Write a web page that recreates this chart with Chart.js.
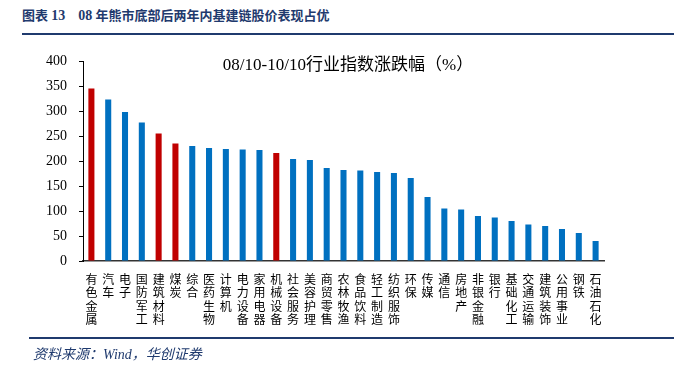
<!DOCTYPE html>
<html>
<head>
<meta charset="utf-8">
<script src="https://cdn.jsdelivr.net/npm/chart.js@4.4.1/dist/chart.umd.min.js"></script>
<style>
  body { margin: 0; background: #fff; }
  #wrap { position: relative; width: 674px; height: 365px; }
  #chartBox { position: absolute; left: 0; top: 0; width: 674px; height: 365px; }
  .head { position: absolute; left: 22px; top: 5px; font: bold 13px "Liberation Serif", "Noto Sans CJK SC"; color: #1F3A6E; white-space: pre; }
  .head b { font-size: 14px; }
  .rule { position: absolute; left: 22px; right: 0; height: 2px; background: #1F3A6E; }
  .src { position: absolute; left: 33px; top: 343px; font: italic 14px "Liberation Serif", "Noto Sans CJK SC"; color: #1F3A6E; }
</style>
</head>
<body>
<div id="wrap">
  <div class="head">图表 <b>13</b>    <b>08</b> 年熊市底部后两年内基建链股价表现占优</div>
  <div class="rule" style="top:33px"></div>
  <div id="chartBox"><canvas id="chart1"></canvas></div>
  <div class="rule" style="top:337px; left:29px; height:1.5px"></div>
  <div class="src">资料来源：Wind，华创证券</div>
</div>
<script>
const industries = ["有色金属", "汽车", "电子", "国防军工", "建筑材料", "煤炭", "综合", "医药生物",
  "计算机", "电力设备", "家用电器", "机械设备", "社会服务", "美容护理", "商贸零售", "农林牧渔",
  "食品饮料", "轻工制造", "纺织服饰", "环保", "传媒", "通信", "房地产", "非银金融", "银行",
  "基础化工", "交通运输", "建筑装饰", "公用事业", "钢铁", "石油石化"];
const changePct = [345, 323, 298, 277, 255, 235, 230, 226, 224, 223, 222, 216, 204, 202, 186, 182,
  181, 178, 176, 166, 128, 105, 103, 90, 87, 80, 73, 70, 64, 56, 40];
const highlighted = ["有色金属", "建筑材料", "煤炭", "机械设备"];
const yTicks = [0, 50, 100, 150, 200, 250, 300, 350, 400];

const chartTitle = "08/10-10/10行业指数涨跌幅（%）";

// 标题画在绘图区内部
const innerTitle = {
  id: "innerTitle",
  afterDraw(chart) {
    const c = chart.ctx;
    c.save();
    c.font = '17px "Liberation Serif", "Noto Sans CJK SC"';
    c.fillStyle = "#000";
    c.textAlign = "center";
    c.textBaseline = "middle";
    c.fillText(chartTitle, 348, 66);
    c.restore();
  }
};

new Chart(document.getElementById("chart1"), {
  type: "bar",
  data: {
    labels: industries.map(s => s.split("")),
    datasets: [{
      data: changePct,
      backgroundColor: industries.map(n => highlighted.includes(n) ? "#C00000" : "#0070C0"),
      categoryPercentage: 1,
      barPercentage: 0.36,
    }],
  },
  options: {
    responsive: true,
    maintainAspectRatio: false,
    animation: false,
    layout: { padding: { top: 61, right: 70, left: 0, bottom: 0 } },
    plugins: { legend: { display: false }, tooltip: { enabled: false } },
    scales: {
      x: {
        grid: { display: false },
        border: { display: true, color: "#333", width: 1.5 },
        ticks: {
          autoSkip: false,
          maxRotation: 0,
          padding: 4,
          color: "#000",
          font: { family: '"Noto Sans CJK SC"', size: 12, lineHeight: 1.1 },
        },
        afterFit(scale) { scale.height = 104; },
      },
      y: {
        min: 0,
        max: 400,
        afterBuildTicks(scale) { scale.ticks = yTicks.map(v => ({ value: v })); },
        grid: { display: true, drawOnChartArea: false, drawTicks: true, tickLength: 4, color: "#000" },
        border: { display: true, color: "#000", width: 1 },
        ticks: {
          padding: 12,
          color: "#000",
          font: { family: '"Liberation Serif"', size: 14 },
        },
        afterFit(scale) { scale.width = 83; },
      },
    },
  },
  plugins: [innerTitle],
});
</script>
</body>
</html>
